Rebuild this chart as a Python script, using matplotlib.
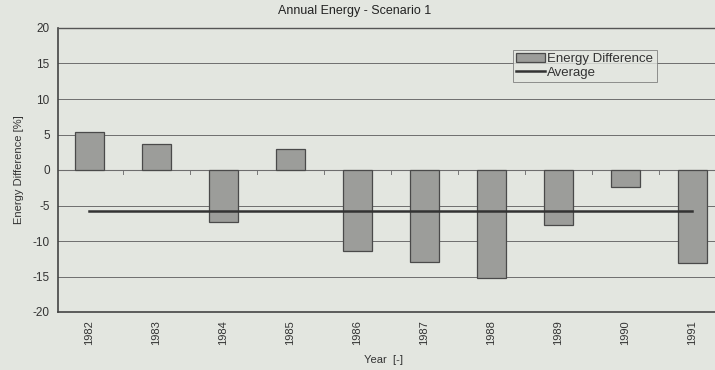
import numpy as np
import matplotlib
matplotlib.use('Agg')
import matplotlib.pyplot as plt

years = ['1982', '1983', '1984', '1985', '1986', '1987', '1988', '1989', '1990', '1991']
energy_diff = [5.4, 3.7, -7.3, 2.9, -11.4, -13.0, -15.2, -7.7, -2.4, -13.1]
average = np.mean(energy_diff)

plt.rcParams['font.family'] = ['Liberation Sans', 'DejaVu Sans']
plt.rcParams['axes.unicode_minus'] = False

bg = '#e3e6e0'
fig = plt.figure(figsize=(7.15, 3.7), dpi=100, facecolor=bg)
# axes runs past the right edge, like the cropped scan
ax = fig.add_axes([58 / 715, 1 - 312 / 370, 670 / 715, 284 / 370], facecolor=bg)

x = np.arange(len(years))
bars = ax.bar(x, energy_diff, width=0.42, color='#9c9d9a', edgecolor='#4a4a4a',
              linewidth=0.9, label='Energy Difference', zorder=3)
line, = ax.plot(x, [average] * len(x), color='#333333', linewidth=1.8,
                label='Average', zorder=4)

ax.set_xlim(-0.47, 9.53)
ax.set_ylim(-20, 20)
ax.set_yticks(range(-20, 21, 5))
ax.yaxis.grid(True, color='#6e6e6e', linewidth=0.7, zorder=0)
ax.axhline(0, color='#777777', linewidth=0.8, zorder=1)
# small category ticks on the zero line
for b in np.arange(0.5, 9.5, 1.0):
    ax.plot([b, b], [0, -0.5], color='#777777', linewidth=0.7, zorder=1)

ax.set_xticks(x)
ax.set_xticklabels(years, rotation=90, fontsize=8, color='#333333')
ax.tick_params(axis='x', length=0, pad=6)
ax.tick_params(axis='y', length=0, pad=6, labelsize=8.5, labelcolor='#333333')

for s in ['left', 'bottom']:
    ax.spines[s].set_color('#444444')
    ax.spines[s].set_linewidth(1.2)
ax.spines['top'].set_color('#555555')
ax.spines['top'].set_linewidth(1.0)
ax.spines['right'].set_visible(False)

ax.set_ylabel('Energy Difference [%]', fontsize=8, color='#333333', labelpad=6)
fig.text(383 / 715, 1 - 360 / 370, 'Year  [-]', fontsize=8, color='#333333',
         ha='center', va='center')
fig.text(355 / 715, 1 - 11 / 370, 'Annual Energy - Scenario 1', fontsize=9,
         color='#222222', ha='center', va='center')

leg = ax.legend([bars, line], ['Energy Difference', 'Average'], loc='upper left',
                bbox_to_anchor=((513 - 58) / 670, 1 - (50 - 28) / 284),
                fontsize=9.5, frameon=True, fancybox=False, borderpad=0.25,
                handlelength=2.2, handleheight=0.6, handletextpad=0.15,
                labelspacing=0.1, borderaxespad=0)
leg.get_frame().set_facecolor(bg)
leg.get_frame().set_edgecolor('#777777')
leg.get_frame().set_linewidth(0.7)
for t in leg.get_texts():
    t.set_color('#333333')

fig.savefig('out.png', dpi=100, facecolor=bg)
